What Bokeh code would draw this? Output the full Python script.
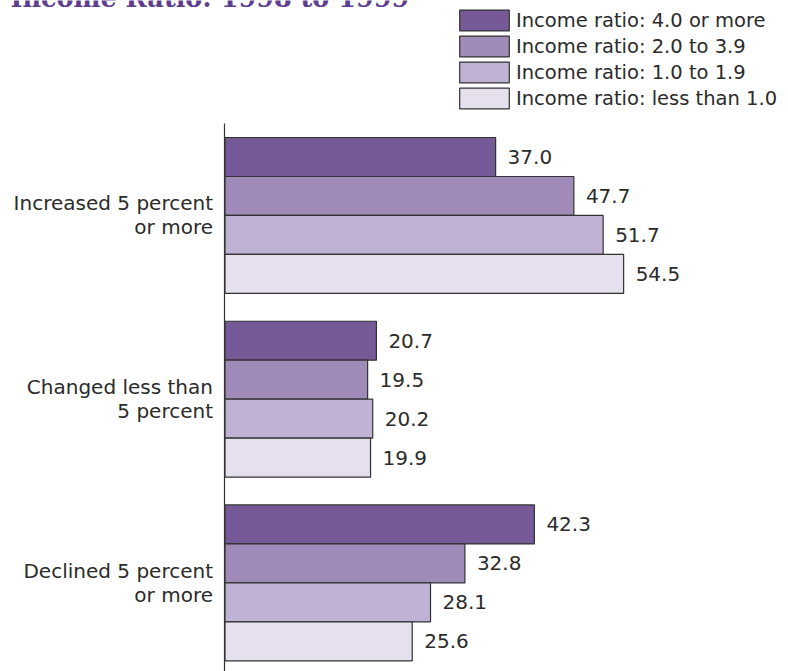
from bokeh.plotting import figure
from bokeh.models import ColumnDataSource, Legend, LegendItem, Label, Range1d, LabelSet, FixedTicker
from bokeh.core.properties import value
from bokeh.transform import dodge
from bokeh.embed import file_html
from bokeh.resources import INLINE

title_text = "Income Ratio: 1998 to 1999"
categories = ["Increased 5 percent\nor more", "Changed less than\n5 percent", "Declined 5 percent\nor more"]
series = ["Income ratio: 4.0 or more", "Income ratio: 2.0 to 3.9",
          "Income ratio: 1.0 to 1.9", "Income ratio: less than 1.0"]
ratio_4_plus = [37.0, 20.7, 42.3]
ratio_2_to_3_9 = [47.7, 19.5, 32.8]
ratio_1_to_1_9 = [51.7, 20.2, 28.1]
ratio_under_1 = [54.5, 19.9, 25.6]
values = [ratio_4_plus, ratio_2_to_3_9, ratio_1_to_1_9, ratio_under_1]
colors = ["#765997", "#a08ab7", "#c0b2d4", "#e6e0ee"]

FONT = "DejaVu Sans"
TXT = "#2b2b2b"

n = len(categories)
ypos = [float(n - i) for i in range(n)]  # top group first

p = figure(width=788, height=671, output_backend="svg", toolbar_location=None,
           x_range=Range1d(-30.69, 77.04), y_range=Range1d(0.518, 4.170),
           min_border_left=0, min_border_right=0, min_border_top=0, min_border_bottom=0)
p.outline_line_color = None
p.xgrid.visible = False
p.ygrid.visible = False
p.xaxis.visible = False
p.background_fill_color = None
p.border_fill_color = None

bar_h = 0.2122
offsets = [1.5 * bar_h, 0.5 * bar_h, -0.5 * bar_h, -1.5 * bar_h]
renderers = []
for i, (name, vals) in enumerate(zip(series, values)):
    src = ColumnDataSource(dict(y=ypos, val=vals, txt=[f"{v:.1f}" for v in vals]))
    r = p.hbar(y=dodge("y", offsets[i]), left=0, right="val", height=bar_h,
               source=src, fill_color=colors[i], line_color="#333333", line_width=1.2)
    renderers.append(r)
    labels = LabelSet(x="val", y=dodge("y", offsets[i]), text="txt", source=src,
                      x_offset=12, text_baseline="middle", text_align="left",
                      text_font=value(FONT), text_font_size="20px", text_color=TXT)
    p.add_layout(labels)

yax = p.yaxis[0]
yax.fixed_location = 0
yax.bounds = (ypos[-1] - 0.4823, ypos[0] + 0.5007)
yax.ticker = FixedTicker(ticks=ypos)
yax.major_label_overrides = {y: c for y, c in zip(ypos, categories)}
yax.axis_line_color = "#333333"
yax.axis_line_width = 1.2
yax.major_tick_line_color = None
yax.minor_tick_line_color = None
yax.major_label_standoff = 6
yax.major_label_text_font = FONT
yax.major_label_text_font_size = "20px"
yax.major_label_text_color = TXT
yax.major_label_text_line_height = 1.0

legend = Legend(items=[LegendItem(label=s, renderers=[r]) for s, r in zip(series, renderers)],
                location=(453, 560), padding=0, margin=0, spacing=0,
                glyph_width=62, glyph_height=26, label_height=20, label_standoff=1,
                label_text_font=FONT, label_text_font_size="19.5px", label_text_color=TXT,
                border_line_color=None, background_fill_alpha=0)
p.add_layout(legend)

title = Label(x=10, y=674, x_units="screen", y_units="screen", text=title_text,
              text_font="DejaVu Serif", text_font_style="bold", text_font_size="25.5px",
              text_color="#5e3d91", text_baseline="alphabetic")
p.add_layout(title)

open("out.html", "w").write(file_html(p, INLINE))
